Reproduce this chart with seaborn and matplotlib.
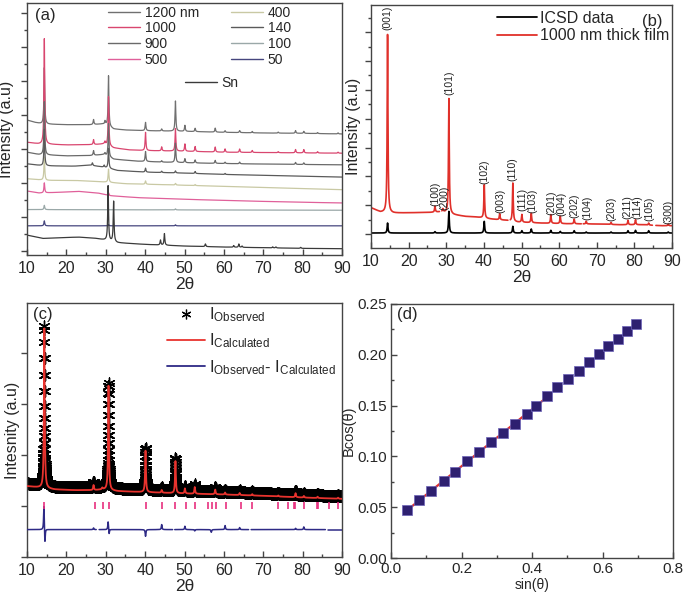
import numpy as np
import pandas as pd
import matplotlib
matplotlib.use("Agg")
import matplotlib.pyplot as plt
import seaborn as sns
from matplotlib.lines import Line2D
from matplotlib.ticker import MultipleLocator, FormatStrFormatter

sns.set_theme(style="ticks")
plt.rcParams['font.family'] = ['Liberation Sans', 'DejaVu Sans']
plt.rcParams['mathtext.fontset'] = 'custom'
plt.rcParams['mathtext.rm'] = 'Liberation Sans'
plt.rcParams['mathtext.it'] = 'Liberation Sans:italic'
plt.rcParams['mathtext.bf'] = 'Liberation Sans:bold'

# ------------------------------------------------------------------ data
# (a) XRD of films of different thickness (arbitrary stacked units)
a_names = ["1200 nm", "1000", "900", "500", "400", "140", "100", "50", "Sn"]
a_colors = ["#707070", "#d9466f", "#6a6a6a", "#e0609a", "#c9c9a4",
            "#5a5a5a", "#9aa8a8", "#46467e", "#3a3a3a"]

a1200_bx = [10, 12, 14, 20, 26, 29, 30, 32, 35, 40, 50, 60, 70, 80, 90]
a1200_by = [407, 400, 395, 393, 393, 395, 393, 380, 377, 375, 373, 370, 368, 367, 365]
a1200_pp = [14.4, 26.9, 29.8, 30.7, 40.1, 44.2, 47.7, 50.1, 52.7, 57.8, 60.3, 64.0, 67.2, 73.8, 78.2, 80.3, 83.8, 89.0]
a1200_ph = [170, 15, 10, 152, 25, 6, 91, 18, 10, 12, 5, 6, 4, 3, 8, 6, 3, 3]

a1000_bx = [10, 13, 20, 27, 29.5, 32, 36, 40, 50, 60, 70, 80, 90]
a1000_by = [340, 335, 332, 333, 335, 323, 317, 315, 313, 310, 309, 308, 307]
a1000_pp = [14.4, 26.9, 29.8, 30.7, 40.1, 44.2, 47.7, 50.1, 52.7, 57.8, 60.3, 64.0, 67.2, 73.8, 78.2, 80.3, 83.8, 89.0]
a1000_ph = [318, 15, 8, 148, 55, 12, 68, 22, 15, 15, 10, 10, 6, 3, 10, 10, 4, 3]

a900_bx = [10, 13, 20, 26, 29.5, 32, 38, 45, 55, 65, 80, 90]
a900_by = [310, 303, 299, 300, 303, 289, 283, 280, 277, 275, 273, 272]
a900_pp = [14.4, 26.9, 29.8, 30.7, 40.1, 44.2, 47.7, 50.1, 52.7, 57.8, 60.3, 64.0, 78.2, 80.3]
a900_ph = [160, 14, 6, 100, 30, 4, 58, 12, 9, 9, 4, 5, 6, 5]

a500_bx = [10, 13, 18, 23, 28, 31, 38, 50, 65, 80, 90]
a500_by = [193, 187, 189, 192, 187, 179, 173, 168, 163, 159, 157]
a500_pp = [14.4, 30.7]
a500_ph = [30, 8]

a400_bx = [10, 15, 22, 30, 35, 45, 60, 75, 90]
a400_by = [230, 225, 225, 220, 215, 212, 207, 202, 197]
a400_pp = [14.4, 30.7, 40.1, 47.7, 52.7]
a400_ph = [70, 40, 10, 5, 3]

a140_bx = [10, 14, 22, 26, 29.5, 33, 40, 50, 60, 75, 90]
a140_by = [275, 269, 268, 271, 265, 255, 250, 247, 243, 239, 235]
a140_pp = [14.4, 26.6, 29.6, 30.7, 40.1, 44.2, 47.7, 52.7, 60.3]
a140_ph = [110, 8, 6, 60, 12, 4, 6, 6, 3]

a100_bx = [10, 50, 90]
a100_by = [137, 136, 135]
a100_pp = [14.4, 47.7]
a100_ph = [13, 3]

a50_bx = [10, 90]
a50_by = [88, 88]
a50_pp = [14.4, 30.7, 47.7]
a50_ph = [15, 4, 3]

aSn_bx = [10, 14, 18, 23, 27, 30, 33, 40, 50, 60, 70, 80, 90]
aSn_by = [60, 50, 52, 54, 51, 45, 37, 32, 27, 24, 22, 20, 19]
aSn_pp = [30.6, 32.0, 43.9, 44.9, 55.3, 62.5, 63.8, 64.6, 72.4, 73.2, 79.5]
aSn_ph = [165, 122, 15, 35, 8, 5, 10, 4, 3, 3, 3]

# (b) ICSD reference vs 1000 nm film
b_icsd_bx = [10, 90]
b_icsd_by = [45, 45]
b_icsd_pp = [14.4, 27.0, 30.7, 40.1, 47.7, 50.1, 52.6, 57.8, 60.3, 64.0, 67.2, 73.8, 78.3, 80.3, 83.8, 89.0]
b_icsd_ph = [30, 4, 65, 35, 20, 7, 12, 8, 5, 7, 3, 3, 7, 8, 7, 3]

b_film_bx = [10, 12.5, 16, 26, 29, 32, 35, 38, 42, 46, 49, 55, 62, 70, 76, 82, 87, 90]
b_film_by = [121, 108, 105, 107, 109, 100, 95, 93, 87, 83, 78, 75, 73, 72, 70, 70, 67, 67]
b_film_pp = [14.4, 27.0, 29.1, 30.7, 40.1, 44.2, 47.7, 50.1, 52.6, 57.8, 60.3, 64.0, 67.2, 73.8, 78.3, 80.3, 83.8, 89.0]
b_film_ph = [535, 18, 8, 345, 100, 18, 115, 23, 28, 26, 22, 14, 8, 6, 13, 15, 6, 5]
b_film_gaps = [(28.2, 28.8), (46.4, 47.0), (65.9, 66.4), (84.8, 85.7)]

b_hkl = ["(001)", "(100)", "(200)", "(101)", "(102)", "(003)", "(110)", "(111)", "(103)",
         "(201)", "(004)", "(202)", "(104)", "(203)", "(211)", "(114)", "(105)", "(300)"]
b_hkl_x = [14.4, 27.0, 29.4, 30.7, 40.1, 44.3, 47.7, 50.3, 52.8, 57.9, 60.5, 64.1, 67.4, 74.0, 78.2, 80.8, 84.1, 89.0]
b_hkl_y = [655, 125, 115, 460, 193, 105, 200, 110, 105, 100, 95, 90, 83, 80, 87, 87, 80, 73]

# (c) Rietveld refinement
c_calc_bx = [10, 13, 17, 22, 27, 29.5, 33, 40, 50, 60, 70, 80, 90]
c_calc_by = [212, 208, 202, 200, 200, 202, 197, 194, 190, 187, 183, 178, 174]
c_calc_pp = [14.4, 26.9, 29.1, 30.7, 40.1, 44.2, 47.7, 50.1, 52.6, 57.8, 60.3, 64.0, 67.2, 73.8, 78.2, 80.3, 83.8, 89.0]
c_calc_ph = [478, 15, 5, 312, 124, 8, 96, 15, 20, 14, 6, 6, 4, 3, 12, 5, 4, 3]
c_obs_shift = 8

c_diff_base = 82
c_diff_pp = [14.3, 14.55, 26.9, 30.6, 30.85, 40.1, 44.2, 50.1, 52.6, 56.8, 60.3, 64.0, 78.2, 80.3]
c_diff_ph = [75, -45, 5, 25, -15, -20, 15, 10, -4, -8, 12, 6, 4, 8]
c_diff_gaps = [(27.6, 28.3), (47.0, 47.5), (66.3, 66.9), (85.8, 86.4)]

c_bragg = [14.4, 27.2, 29.3, 30.8, 40.2, 44.3, 47.7, 50.3, 52.7, 55.9, 57.1, 57.9, 60.5,
           64.3, 67.2, 73.8, 76.3, 77.8, 78.1, 80.4, 83.6, 83.8, 86.7, 89.1]

# (d) Williamson-Hall plot
d_sin = [0.045, 0.080, 0.113, 0.149, 0.182, 0.216, 0.251, 0.283, 0.318, 0.352, 0.385,
         0.412, 0.442, 0.472, 0.503, 0.533, 0.562, 0.590, 0.617, 0.645, 0.670, 0.695]
d_bcos = [0.047, 0.057, 0.066, 0.076, 0.085, 0.095, 0.104, 0.114, 0.123, 0.132, 0.142,
          0.150, 0.159, 0.168, 0.176, 0.184, 0.193, 0.201, 0.209, 0.216, 0.223, 0.230]
d_fit_npts = 13

# ------------------------------------------------------------------ helpers
x_line = np.linspace(10, 90, 4001)
x_obs = np.linspace(10, 90, 4001)


def pattern(x, bx, by, pp, ph, w=0.12):
    y = np.interp(x, bx, by).astype(float)
    for p, h in zip(pp, ph):
        y = y + h / (1 + ((x - p) / w) ** 2)
    return y


def segments(x, y, gaps=()):
    seg = np.zeros(len(x), dtype=int)
    keep = np.ones(len(x), dtype=bool)
    for i, (g0, g1) in enumerate(sorted(gaps)):
        keep &= ~((x >= g0) & (x <= g1))
        seg[x > g1] = i + 1
    return pd.DataFrame({"x": x[keep], "y": y[keep], "seg": seg[keep]})


SPINE = "#444444"


def frame(ax):
    for s in ax.spines.values():
        s.set_color(SPINE)
        s.set_linewidth(1.0)
        s.set_visible(True)


def style_xrd(ax, ylim, ymaj, ymin):
    ax.set_xlim(10, 90)
    ax.set_ylim(*ylim)
    ax.xaxis.set_major_locator(MultipleLocator(10))
    ax.xaxis.set_minor_locator(MultipleLocator(5))
    ax.set_yticks(ymaj)
    ax.set_yticks(ymin, minor=True)
    ax.tick_params(axis='x', which='major', direction='in', length=4, width=1,
                   color=SPINE, labelsize=11.5, pad=4)
    ax.tick_params(axis='x', which='minor', direction='in', length=2.5, width=1, color=SPINE)
    ax.tick_params(axis='y', which='major', direction='out', length=4, width=1,
                   color=SPINE, labelleft=False)
    ax.tick_params(axis='y', which='minor', direction='out', length=2.5, width=1,
                   color=SPINE, labelleft=False)
    ax.set_xlabel("2θ", fontsize=12.5, labelpad=1)
    frame(ax)


fig = plt.figure(figsize=(6.85, 6.0), dpi=100)
axA = fig.add_axes([27 / 685, 1 - 255 / 600, 315 / 685, 252 / 600])
axB = fig.add_axes([371 / 685, 1 - 248 / 600, 301 / 685, 243 / 600])
axC = fig.add_axes([27 / 685, 1 - 557 / 600, 315 / 685, 254 / 600])
axD = fig.add_axes([391 / 685, 1 - 558 / 600, 282 / 685, 254 / 600])

# ------------------------------------------------------------------ (a)
a_specs = [
    (a1200_bx, a1200_by, a1200_pp, a1200_ph),
    (a1000_bx, a1000_by, a1000_pp, a1000_ph),
    (a900_bx, a900_by, a900_pp, a900_ph),
    (a500_bx, a500_by, a500_pp, a500_ph),
    (a400_bx, a400_by, a400_pp, a400_ph),
    (a140_bx, a140_by, a140_pp, a140_ph),
    (a100_bx, a100_by, a100_pp, a100_ph),
    (a50_bx, a50_by, a50_pp, a50_ph),
    (aSn_bx, aSn_by, aSn_pp, aSn_ph),
]
frames = []
for name, (bx, by, pp, ph) in zip(a_names, a_specs):
    d = segments(x_line, pattern(x_line, bx, by, pp, ph))
    d["film"] = name
    frames.append(d)
dfA = pd.concat(frames, ignore_index=True)
sns.lineplot(data=dfA, x="x", y="y", hue="film", hue_order=a_names, palette=a_colors,
             units="seg", estimator=None, sort=False, lw=0.9, legend=False, ax=axA)
style_xrd(axA, (0, 760), np.arange(13, 760, 102.4), np.arange(64, 760, 102.4))
axA.set_ylabel("Intensity (a.u)", fontsize=11.5, labelpad=5)
axA.text(0.025, 0.952, "(a)", transform=axA.transAxes, fontsize=12, va="center", ha="left")
hA = [Line2D([], [], color=c, lw=1.0) for c in a_colors[:8]]
legA = axA.legend(hA, a_names[:8], ncol=2, loc="upper left", bbox_to_anchor=(0.257, 0.99),
                  frameon=False, fontsize=10, handlelength=2.3, handletextpad=0.35,
                  labelspacing=0.12, columnspacing=2.3, borderpad=0, borderaxespad=0)
axA.add_artist(legA)
axA.legend([Line2D([], [], color=a_colors[8], lw=1.0)], ["Sn"], loc="upper left",
           bbox_to_anchor=(0.502, 0.712), frameon=False, fontsize=10, handlelength=2.3,
           handletextpad=0.3, borderpad=0, borderaxespad=0)

# ------------------------------------------------------------------ (b)
dfB1 = segments(x_line, pattern(x_line, b_icsd_bx, b_icsd_by, b_icsd_pp, b_icsd_ph, w=0.13))
dfB2 = segments(x_line, pattern(x_line, b_film_bx, b_film_by, b_film_pp, b_film_ph), b_film_gaps)
sns.lineplot(data=dfB1, x="x", y="y", units="seg", estimator=None, sort=False,
             color="black", lw=1.2, ax=axB)
sns.lineplot(data=dfB2, x="x", y="y", units="seg", estimator=None, sort=False,
             color="#e0302a", lw=1.2, ax=axB)
style_xrd(axB, (0, 730), np.arange(42, 730, 86.6), np.arange(85.3, 730, 86.6))
axB.set_ylabel("Intensity (a.u)", fontsize=11.5, labelpad=3)
for t, xx, yy in zip(b_hkl, b_hkl_x, b_hkl_y):
    axB.text(xx, yy, t, rotation=90, ha="center", va="bottom", fontsize=7.5, color="#222222")
axB.text(0.934, 0.934, "(b)", transform=axB.transAxes, fontsize=12, va="center", ha="center")
axB.legend([Line2D([], [], color="black", lw=1.3), Line2D([], [], color="#e0302a", lw=1.3)],
           ["ICSD data", "1000 nm thick film"], loc="upper left", bbox_to_anchor=(0.419, 0.975),
           frameon=False, fontsize=11.5, handlelength=2.5, handletextpad=0.2,
           labelspacing=0.15, borderpad=0, borderaxespad=0)

# ------------------------------------------------------------------ (c)
calc = pattern(x_line, c_calc_bx, c_calc_by, c_calc_pp, c_calc_ph)
obs = pattern(x_obs, c_calc_bx, c_calc_by, c_calc_pp, c_calc_ph) + c_obs_shift
diff = pattern(x_line, [10, 90], [c_diff_base, c_diff_base], c_diff_pp, c_diff_ph, w=0.1)
dfObs = pd.DataFrame({"x": x_obs, "y": obs})
sns.scatterplot(data=dfObs, x="x", y="y", marker=(6, 2, 0), s=62, color="black",
                linewidth=1.0, ax=axC, legend=False, zorder=2)
dfCalc = segments(x_line, calc)
sns.lineplot(data=dfCalc, x="x", y="y", units="seg", estimator=None, sort=False,
             color="#e8332e", lw=1.3, ax=axC, zorder=3)
dfDiff = segments(x_line, diff, c_diff_gaps)
sns.lineplot(data=dfDiff, x="x", y="y", units="seg", estimator=None, sort=False,
             color="#2e2a86", lw=1.1, ax=axC, zorder=3)
axC.vlines(c_bragg, 145, 165, color="#e8307f", lw=1.2, zorder=3)
style_xrd(axC, (0, 760), np.arange(0, 760, 152.5), [])
axC.set_ylabel("Intesnity (a.u)", fontsize=11.5, labelpad=1)
axC.text(0.02, 0.955, "(c)", transform=axC.transAxes, fontsize=12, va="center", ha="left")
hC = [Line2D([], [], color="black", marker=(6, 2, 0), ms=7, mew=0.9, lw=0),
      Line2D([], [], color="#e8332e", lw=1.3),
      Line2D([], [], color="#2e2a86", lw=1.3)]
axC.legend(hC, [r"I$_{\rm Observed}$", r"I$_{\rm Calculated}$",
                r"I$_{\rm Observed}$- I$_{\rm Calculated}$"],
           loc="upper left", bbox_to_anchor=(0.444, 0.99), frameon=False, fontsize=12,
           handlelength=2.3, handletextpad=0.2, labelspacing=0.45, borderpad=0,
           borderaxespad=0)

# ------------------------------------------------------------------ (d)
dfD = pd.DataFrame({"s": d_sin, "b": d_bcos})
coef = np.polyfit(d_sin[:d_fit_npts], d_bcos[:d_fit_npts], 1)
fit_x = np.array([d_sin[0], d_sin[d_fit_npts - 1]])
sns.lineplot(x=fit_x, y=np.polyval(coef, fit_x), color="#e03030", lw=1.6, ax=axD, zorder=2)
sns.scatterplot(data=dfD, x="s", y="b", marker="s", s=42, color="#2e2070",
                edgecolor="#6b62b8", linewidth=0.5, ax=axD, zorder=3, legend=False)
axD.set_xlim(0, 0.8)
axD.set_ylim(0, 0.25)
axD.xaxis.set_major_locator(MultipleLocator(0.2))
axD.xaxis.set_minor_locator(MultipleLocator(0.1))
axD.yaxis.set_major_locator(MultipleLocator(0.05))
axD.yaxis.set_minor_locator(MultipleLocator(0.025))
axD.xaxis.set_major_formatter(FormatStrFormatter("%.1f"))
axD.yaxis.set_major_formatter(FormatStrFormatter("%.2f"))
axD.tick_params(which="major", direction="in", length=4, width=1, color=SPINE,
                labelsize=11, pad=3)
axD.tick_params(which="minor", direction="in", length=2.5, width=1, color=SPINE)
axD.set_xlabel("sin(θ)", fontsize=10, labelpad=1)
axD.set_ylabel("Bcos(θ)", fontsize=10.5, labelpad=1)
axD.text(0.058, 0.957, "(d)", transform=axD.transAxes, fontsize=12, va="center", ha="center")
frame(axD)

fig.savefig("out.png", dpi=100)
